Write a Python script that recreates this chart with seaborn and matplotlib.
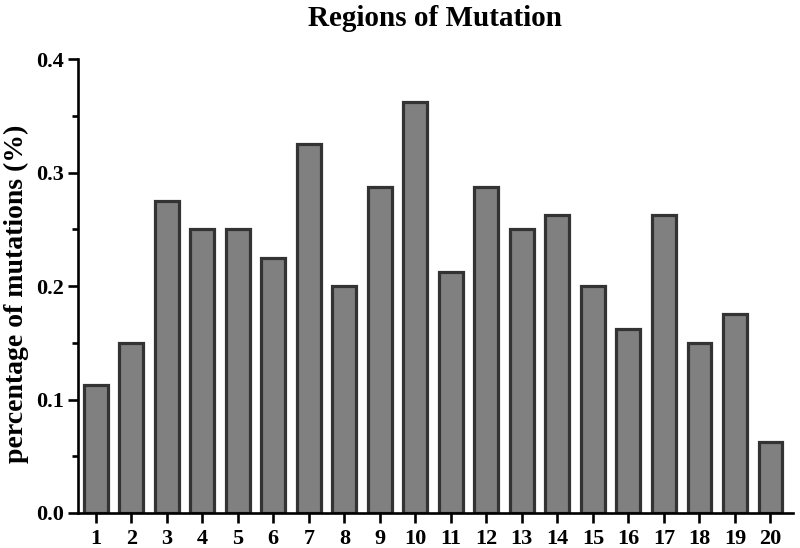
import matplotlib
matplotlib.use("Agg")
import matplotlib.pyplot as plt
import seaborn as sns
import pandas as pd
from matplotlib.ticker import MultipleLocator

regions = [str(i) for i in range(1, 21)]
percentages = [0.1125, 0.15, 0.275, 0.25, 0.25, 0.225, 0.325, 0.2, 0.2875, 0.3625,
               0.2125, 0.2875, 0.25, 0.2625, 0.2, 0.1625, 0.2625, 0.15, 0.175, 0.0625]
y_ticks = [0.0, 0.1, 0.2, 0.3, 0.4]
y_tick_labels = ["0.0", "0.1", "0.2", "0.3", "0.4"]

sns.set_theme(style="ticks")
plt.rcParams['font.family'] = ['Liberation Serif', 'DejaVu Serif']
plt.rcParams['font.weight'] = 'bold'
plt.rcParams['text.color'] = 'black'
plt.rcParams['axes.labelcolor'] = 'black'

df = pd.DataFrame({"region": regions, "pct": percentages})

fig = plt.figure(figsize=(8, 5.48), dpi=100)
ax = fig.add_axes([0.0975, 0.0639, 0.8935, 0.8281])

sns.barplot(data=df, x="region", y="pct", order=regions, color="#808080",
            saturation=1, edgecolor="#333333", linewidth=2.3, width=0.67, ax=ax)

ax.set_xlim(-0.5, 19.63)
ax.set_ylim(0, 0.4)
ax.set_yticks(y_ticks)
ax.set_yticklabels(y_tick_labels)
ax.yaxis.set_minor_locator(MultipleLocator(0.05))

for s in ["top", "right"]:
    ax.spines[s].set_visible(False)
for s in ["left", "bottom"]:
    ax.spines[s].set_linewidth(1.9)
    ax.spines[s].set_color("black")

ax.tick_params(axis="both", which="major", direction="out", length=7.2, width=1.9,
               color="black", labelsize=16, labelcolor="black", pad=3)
ax.tick_params(axis="x", which="major", pad=4)
ax.tick_params(axis="y", which="minor", direction="out", length=4.5, width=1.9, color="black")
for lab in ax.get_xticklabels() + ax.get_yticklabels():
    lab.set_fontweight("bold")

ax.set_xlabel("")
ax.set_ylabel("percentage of mutations (%)", fontsize=20, fontweight="bold",
              color="black")
ax.yaxis.set_label_coords(-0.069, 0.482)
ax.set_title("Regions of Mutation", fontsize=21, fontweight="bold", color="black", pad=24)

fig.savefig("out.png", dpi=100, facecolor="white")
